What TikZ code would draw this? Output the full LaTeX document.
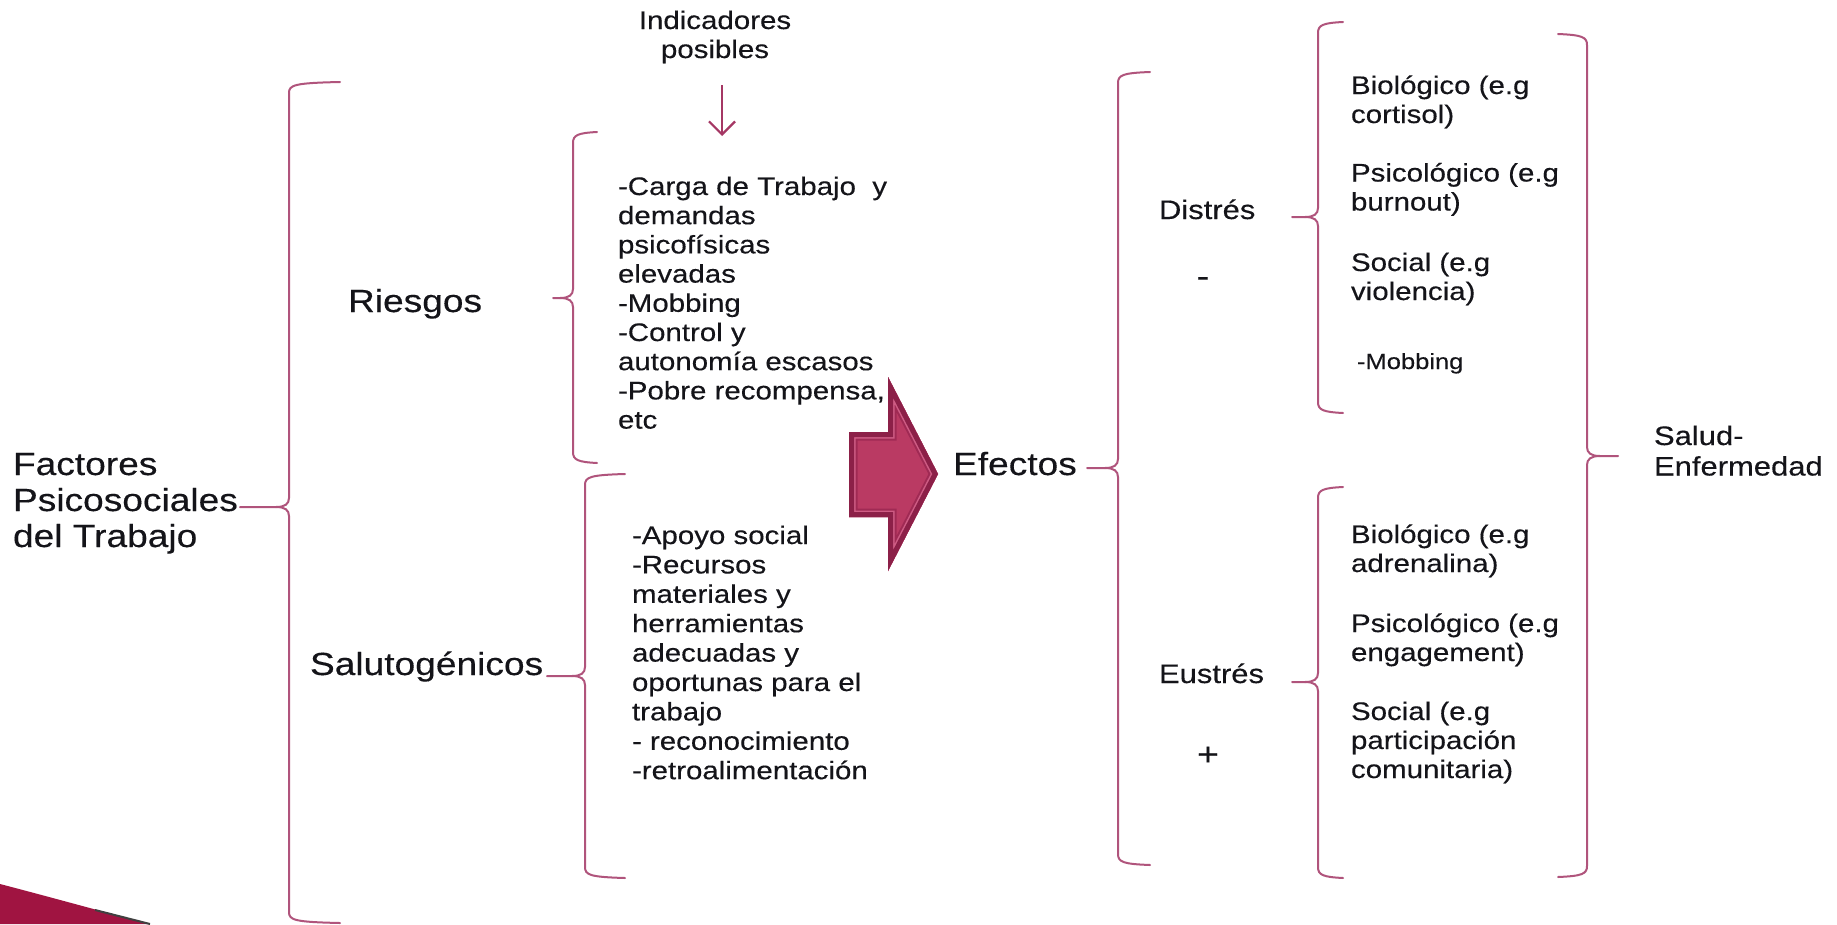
\documentclass[tikz,border=0pt]{standalone}
\usepackage{fontspec}
\setmainfont[FakeStretch=1.16,FakeBold=0.3]{Liberation Sans}
\usetikzlibrary{arrows.meta}
\definecolor{brccol}{RGB}{176,84,124}
\definecolor{arrcol}{RGB}{165,55,100}
\definecolor{txtcol}{RGB}{20,20,25}
\definecolor{bigdark}{RGB}{140,32,72}
\definecolor{bigdarkb}{RGB}{160,42,84}
\definecolor{biglight}{RGB}{206,92,132}
\definecolor{bigmid}{RGB}{186,58,99}
\definecolor{crimson}{RGB}{160,20,65}
\newcommand{\mlines}[1]{\begin{tabular}[t]{@{}l@{}}#1\end{tabular}}
\newcommand{\clines}[1]{\begin{tabular}[t]{@{}c@{}}#1\end{tabular}}
\newcommand{\fL}{\fontsize{32}{36}\selectfont}
\newcommand{\fM}{\fontsize{26.7}{30.5}\selectfont}
\newcommand{\fS}{\fontsize{25.4}{29}\selectfont}
\newcommand{\braceL}[6]{%
  \draw[brc] (#6,#2-3) .. controls (#1+5,#2-2) and (#1,#2) .. (#1,#2+8)
     -- (#1,#4-9) .. controls (#1,#4-3) and (#1-4,#4) .. (#1-13,#4) -- (#5,#4);
  \draw[brc] (#1-13,#4) .. controls (#1-4,#4) and (#1,#4+3) .. (#1,#4+9)
     -- (#1,#3-8) .. controls (#1,#3) and (#1+5,#3+2) .. (#6,#3+3);
}
\newcommand{\braceR}[6]{%
  \draw[brc] (#6,#2-3) .. controls (#1-5,#2-2) and (#1,#2) .. (#1,#2+8)
     -- (#1,#4-9) .. controls (#1,#4-3) and (#1+4,#4) .. (#1+13,#4) -- (#5,#4);
  \draw[brc] (#1+13,#4) .. controls (#1+4,#4) and (#1,#4+3) .. (#1,#4+9)
     -- (#1,#3-8) .. controls (#1,#3) and (#1-5,#3+2) .. (#6,#3+3);
}
\newcommand{\bigarrowpath}{(849,432) -- (888,432) -- (888,377) -- (938,474) -- (888,571) -- (888,517) -- (849,517) -- cycle}
\begin{document}
\begin{tikzpicture}[x=1pt,y=-1pt,
  brc/.style={draw=brccol,line width=2pt,line cap=round},
  txt/.style={inner sep=0pt,outer sep=0pt,text=txtcol,anchor=base west},
  darr/.style={draw=arrcol,line width=2.2pt,-{Straight Barb[length=13pt,width=26pt,line width=2.2pt]}}]
\useasboundingbox[fill=white] (0,0) rectangle (1837,924);

% bottom-left decoration
\fill[crimson] (0,884) .. controls (50,897) and (100,911) .. (150,924) -- (0,924) -- cycle;
\draw[black!75,line width=2pt] (95,910) -- (150,924);

% big arrow
\fill[bigmid] \bigarrowpath;
\begin{scope}
  \clip \bigarrowpath;
  \draw[bigdarkb,line width=17pt,line join=miter] \bigarrowpath;
  \draw[biglight,line width=13pt,line join=miter] \bigarrowpath;
  \draw[bigdark,line width=10pt,line join=miter] \bigarrowpath;
\end{scope}

% texts
\node[txt,font=\fL] (fact) at (13,475) {\mlines{Factores\\Psicosociales\\del Trabajo}};
\node[txt,font=\fL] (ries) at (348,312) {Riesgos};
\node[txt,font=\fL] (salu) at (310,675) {Salutogénicos};
\node[txt,font=\fL] (efec) at (953,475) {Efectos};
\node[inner sep=0pt,text=txtcol,anchor=base,font=\fS] (indi) at (715,29) {\clines{Indicadores\\posibles}};
\node[txt,font=\fontsize{25.4}{29.2}\selectfont] (rlist) at (618,195) {\mlines{-Carga de Trabajo\ \ y\\demandas\\psicofísicas\\elevadas\\-Mobbing\\-Control y\\autonomía escasos\\-Pobre recompensa,\\etc}};
\node[txt,font=\fontsize{25.4}{29.4}\selectfont] (slist) at (632,544) {\mlines{-Apoyo social\\-Recursos\\materiales y\\herramientas\\adecuadas y\\oportunas para el\\trabajo\\- reconocimiento\\-retroalimentación}};
\node[txt,font=\fM] (dist) at (1159,219) {Distrés};
\node[txt,font=\fM] (eust) at (1159,683) {Eustrés};
\node[inner sep=0pt,text=txtcol,font=\fL] (minus) at (1203,282) {-};
\node[inner sep=0pt,text=txtcol,font=\fL] (plus) at (1208,756) {+};
\node[txt,font=\fS] (d1) at (1351,94) {\mlines{Biológico (e.g\\cortisol)}};
\node[txt,font=\fS] (d2) at (1351,181.5) {\mlines{Psicológico (e.g\\burnout)}};
\node[txt,font=\fS] (d3) at (1351,271) {\mlines{Social (e.g\\violencia)}};
\node[txt,font=\fontsize{22}{26}\selectfont] (d4) at (1357,369) {-Mobbing};
\node[txt,font=\fS] (e1) at (1351,543) {\mlines{Biológico (e.g\\adrenalina)}};
\node[txt,font=\fS] (e2) at (1351,632) {\mlines{Psicológico (e.g\\engagement)}};
\node[txt,font=\fS] (e3) at (1351,720) {\mlines{Social (e.g\\participación\\comunitaria)}};
\node[txt,font=\fM] (salud) at (1654,445) {\mlines{Salud-\\Enfermedad}};

% down arrow
\coordinate (a1) at (722,85);
\coordinate (a2) at (722,136);
\draw[darr] (a1) -- (a2);

% braces
\braceL{289}{85}{920}{507}{240}{340}
\braceL{573}{135}{460}{298}{553}{597}
\braceL{585}{477}{875}{676}{547}{625}
\braceL{1118}{75}{862}{468}{1087}{1150}
\braceL{1318}{25}{410}{217}{1292}{1343}
\braceL{1318}{490}{875}{682}{1292}{1343}
\braceR{1587}{37}{874}{456}{1618}{1558}
\end{tikzpicture}
\end{document}
